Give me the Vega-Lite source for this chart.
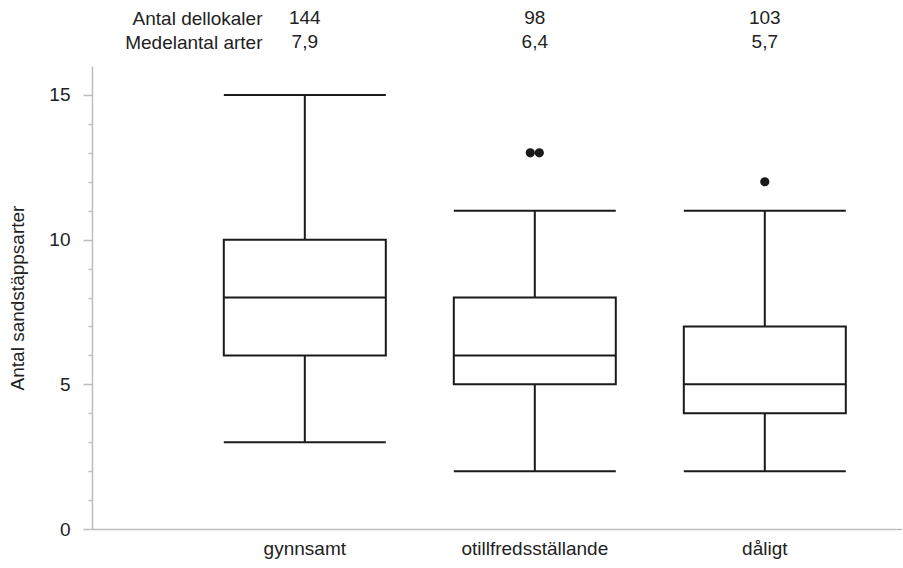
{
  "$schema": "https://vega.github.io/schema/vega-lite/v6.json",
  "background": "white",
  "padding": {"left": 8, "top": 6, "right": 0, "bottom": 5},
  "spacing": 12,
  "config": {
    "font": "Liberation Sans",
    "view": {"stroke": null},
    "axis": {
      "labelFont": "Liberation Sans",
      "labelFontSize": 19,
      "labelColor": "#222222",
      "titleFont": "Liberation Sans",
      "titleFontSize": 19,
      "titleFontWeight": "normal",
      "titleColor": "#222222",
      "domainColor": "#bdbdbd",
      "domainWidth": 1.5,
      "tickColor": "#bdbdbd",
      "tickWidth": 1.5,
      "grid": false
    },
    "axisY": {"labelOverlap": false}
  },
  "datasets": {
    "stats": [
      {"tillstand": "gynnsamt", "min": 3, "q1": 6, "median": 8, "q3": 10, "max": 15, "Antal dellokaler": "144", "Medelantal arter": "7,9"},
      {"tillstand": "otillfredsställande", "min": 2, "q1": 5, "median": 6, "q3": 8, "max": 11, "Antal dellokaler": "98", "Medelantal arter": "6,4"},
      {"tillstand": "dåligt", "min": 2, "q1": 4, "median": 5, "q3": 7, "max": 11, "Antal dellokaler": "103", "Medelantal arter": "5,7"}
    ],
    "outliers": [
      {"tillstand": "otillfredsställande", "arter": 13, "j": -1},
      {"tillstand": "otillfredsställande", "arter": 13, "j": 1},
      {"tillstand": "dåligt", "arter": 12, "j": 0}
    ]
  },
  "vconcat": [
    {
      "width": 810,
      "height": 48,
      "data": {"name": "stats"},
      "transform": [{"fold": ["Antal dellokaler", "Medelantal arter"], "as": ["rad", "varde"]}],
      "mark": {"type": "text", "fontSize": 19, "color": "#222222", "baseline": "middle", "align": "center"},
      "encoding": {
        "x": {
          "field": "tillstand", "type": "nominal",
          "scale": {"type": "band", "domain": ["gynnsamt", "otillfredsställande", "dåligt"], "paddingInner": 0, "paddingOuter": 0.2609, "align": 0.815},
          "axis": null
        },
        "y": {
          "field": "rad", "type": "nominal",
          "sort": ["Antal dellokaler", "Medelantal arter"],
          "axis": {"orient": "left", "title": null, "domain": false, "ticks": false, "tickSize": 0, "labelPadding": 2, "offset": -172, "labelAlign": "right"}
        },
        "text": {"field": "varde"}
      }
    },
    {
      "width": 810,
      "height": 463,
      "encoding": {
        "x": {
          "field": "tillstand", "type": "nominal",
          "scale": {"type": "band", "domain": ["gynnsamt", "otillfredsställande", "dåligt"], "paddingInner": 0, "paddingOuter": 0.2609, "align": 0.815},
          "axis": {"title": null, "ticks": false, "labelAngle": 0, "labelPadding": 10}
        }
      },
      "layer": [
        {
          "data": {"name": "stats"},
          "mark": {"type": "rule", "color": "#1a1a1a", "strokeWidth": 2},
          "encoding": {
            "y": {
              "field": "min", "type": "quantitative",
              "title": "Antal sandstäppsarter",
              "scale": {"domain": [0, 16], "nice": false},
              "axis": {
                "values": [0, 1, 2, 3, 4, 5, 6, 7, 8, 9, 10, 11, 12, 13, 14, 15],
                "labelExpr": "datum.value % 5 === 0 ? datum.label : ''",
                "labelOverlap": false,
                "tickSize": {"condition": {"test": "datum.value % 5 === 0", "value": 9}, "value": 4},
                "labelPadding": 13,
                "titlePadding": 21
              }
            },
            "y2": {"field": "max"}
          }
        },
        {
          "data": {"name": "stats"},
          "mark": {"type": "bar", "width": 162, "fill": "white", "stroke": "#1a1a1a", "strokeWidth": 2},
          "encoding": {
            "y": {
              "field": "q1", "type": "quantitative",
              "title": "Antal sandstäppsarter",
              "scale": {"domain": [0, 16], "nice": false},
              "axis": {
                "values": [0, 1, 2, 3, 4, 5, 6, 7, 8, 9, 10, 11, 12, 13, 14, 15],
                "labelExpr": "datum.value % 5 === 0 ? datum.label : ''",
                "labelOverlap": false,
                "tickSize": {"condition": {"test": "datum.value % 5 === 0", "value": 9}, "value": 4},
                "labelPadding": 13,
                "titlePadding": 21
              }
            },
            "y2": {"field": "q3"}
          }
        },
        {
          "data": {"name": "stats"},
          "transform": [{"fold": ["min", "median", "max"], "as": ["stat", "v"]}],
          "mark": {"type": "tick", "size": 162, "thickness": 2, "color": "#1a1a1a", "opacity": 1},
          "encoding": {
            "y": {
              "field": "v", "type": "quantitative",
              "title": "Antal sandstäppsarter",
              "scale": {"domain": [0, 16], "nice": false},
              "axis": {
                "values": [0, 1, 2, 3, 4, 5, 6, 7, 8, 9, 10, 11, 12, 13, 14, 15],
                "labelExpr": "datum.value % 5 === 0 ? datum.label : ''",
                "labelOverlap": false,
                "tickSize": {"condition": {"test": "datum.value % 5 === 0", "value": 9}, "value": 4},
                "labelPadding": 13,
                "titlePadding": 21
              }
            }
          }
        },
        {
          "data": {"name": "outliers"},
          "mark": {"type": "circle", "size": 85, "color": "#1a1a1a", "opacity": 1},
          "encoding": {
            "xOffset": {"field": "j", "type": "quantitative", "scale": {"domain": [-1, 1], "range": [110.5, 119.5]}},
            "y": {
              "field": "arter", "type": "quantitative",
              "title": "Antal sandstäppsarter",
              "scale": {"domain": [0, 16], "nice": false},
              "axis": {
                "values": [0, 1, 2, 3, 4, 5, 6, 7, 8, 9, 10, 11, 12, 13, 14, 15],
                "labelExpr": "datum.value % 5 === 0 ? datum.label : ''",
                "labelOverlap": false,
                "tickSize": {"condition": {"test": "datum.value % 5 === 0", "value": 9}, "value": 4},
                "labelPadding": 13,
                "titlePadding": 21
              }
            }
          }
        }
      ]
    }
  ]
}
